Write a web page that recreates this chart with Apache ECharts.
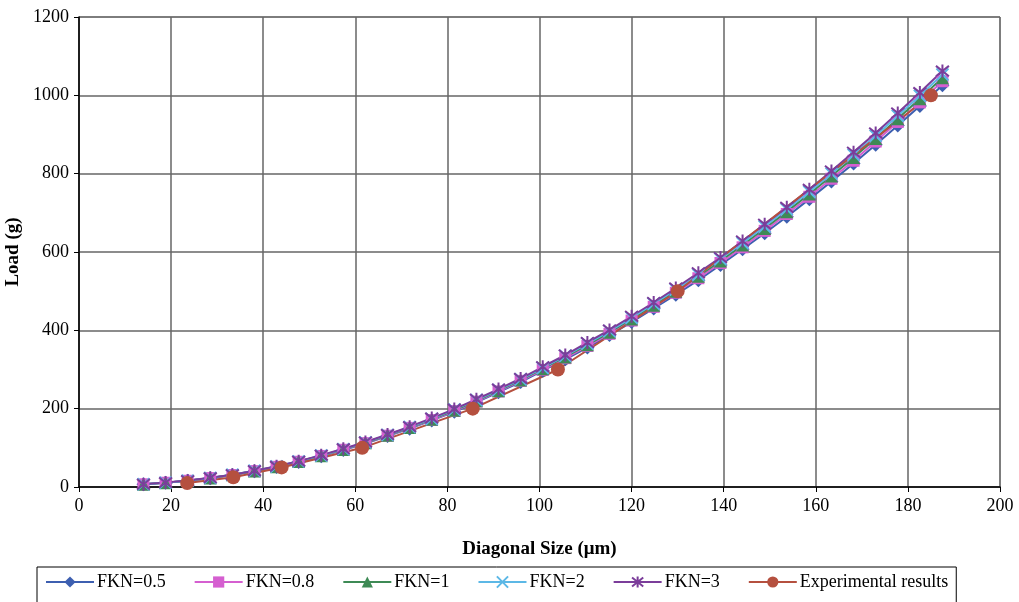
<!DOCTYPE html>
<html>
<head>
<meta charset="utf-8">
<script src="https://cdn.jsdelivr.net/npm/echarts@6/dist/echarts.min.js"></script>
<style>
html,body{margin:0;padding:0;background:#fff;}
#chart{width:1019px;height:602px;}
</style>
</head>
<body>
<div id="chart"></div>
<script>
// Diagonal sizes (µm) of the model points
const diag = [14.0, 18.8, 23.6, 28.5, 33.3, 38.1, 42.9, 47.7, 52.6, 57.4, 62.2, 67.0, 71.8, 76.6, 81.5, 86.3, 91.1, 95.9, 100.7, 105.6, 110.4, 115.2, 120.0, 124.8, 129.6, 134.5, 139.3, 144.1, 148.9, 153.7, 158.6, 163.4, 168.2, 173.0, 177.8, 182.6, 187.5];
// Loads (g) for each model
const fkn05 = [6.9, 10.8, 15.7, 22.6, 30.4, 40.3, 51.1, 63.8, 78.6, 94.3, 111, 130, 149, 170, 192, 216, 242, 268, 297, 326, 356, 388, 421, 456, 491, 528, 567, 607, 648, 690, 735, 780, 826, 874, 923, 973, 1026];
const fkn08 = [6.9, 10.9, 15.9, 22.8, 30.7, 40.6, 51.5, 64.4, 79.3, 95.1, 112, 131, 151, 171, 194, 218, 244, 271, 299, 329, 360, 391, 425, 460, 496, 533, 572, 612, 654, 697, 741, 787, 833, 882, 932, 982, 1036];
const fkn1 = [7, 11, 16, 23, 31, 41, 52, 65, 80, 96, 113, 132, 152, 173, 196, 220, 246, 273, 302, 332, 363, 395, 429, 464, 500, 538, 577, 618, 660, 703, 748, 794, 841, 890, 940, 991, 1045];
const fkn2 = [7.1, 11.1, 16.1, 23.2, 31.2, 41.3, 52.4, 65.5, 80.6, 96.8, 114, 133, 153, 174, 198, 222, 248, 275, 304, 335, 366, 398, 432, 468, 504, 542, 582, 623, 665, 709, 754, 800, 848, 897, 948, 999, 1053];
const fkn3 = [7.1, 11.2, 16.3, 23.4, 31.5, 41.7, 52.8, 66.0, 81.3, 97.5, 115, 134, 154, 176, 199, 224, 250, 277, 307, 337, 369, 401, 436, 471, 508, 547, 586, 628, 671, 714, 760, 807, 855, 904, 955, 1007, 1062];
// Experimental results
const expDiag = [23.5, 33.5, 44.0, 61.5, 85.5, 104.0, 130.0, 185.0];
const expLoad = [10, 25, 50, 100, 200, 300, 500, 1000];
const seriesNames = ['FKN=0.5', 'FKN=0.8', 'FKN=1', 'FKN=2', 'FKN=3', 'Experimental results'];
const xTicks = [0, 20, 40, 60, 80, 100, 120, 140, 160, 180, 200];
const yTicks = [0, 200, 400, 600, 800, 1000, 1200];

const serif = '"Liberation Serif", "Times New Roman", serif';
const pair = (xs, ys) => xs.map((x, i) => [x, ys[i]]);

function mk(name, ys, xs, color, symbol, size, stroke) {
  const s = {
    name: name, type: 'line', data: pair(xs, ys),
    symbol: symbol, symbolSize: size,
    lineStyle: {color: color, width: 2},
    itemStyle: {color: color},
    emphasis: {disabled: true}
  };
  if (stroke) {
    s.itemStyle = {color: color, borderColor: color, borderWidth: 2};
  }
  return s;
}

const chart = echarts.init(document.getElementById('chart'), null, {renderer: 'canvas'});
chart.setOption({
  animation: false,
  backgroundColor: '#fff',
  grid: {left: 79, right: 19, top: 17, bottom: 115, containLabel: false, outerBoundsMode: 'none',
         show: true, borderColor: '#888', borderWidth: 1},
  xAxis: {
    type: 'value', min: xTicks[0], max: xTicks[xTicks.length - 1], interval: 20,
    name: 'Diagonal Size (\u03bcm)', nameLocation: 'middle', nameGap: 53,
    nameTextStyle: {fontFamily: serif, fontSize: 19, fontWeight: 'bold', color: '#000'},
    axisLine: {show: true, lineStyle: {color: '#000', width: 1.5}},
    axisTick: {show: true, length: 5, lineStyle: {color: '#000'}},
    axisLabel: {fontFamily: serif, fontSize: 18, color: '#000', margin: 10, formatter: v => String(v)},
    splitLine: {show: true, lineStyle: {color: '#666', width: 1.5}}
  },
  yAxis: {
    type: 'value', min: yTicks[0], max: yTicks[yTicks.length - 1], interval: 200,
    name: 'Load (g)', nameLocation: 'middle', nameGap: 55,
    nameTextStyle: {fontFamily: serif, fontSize: 19, fontWeight: 'bold', color: '#000'},
    axisLine: {show: true, lineStyle: {color: '#000', width: 1.5}},
    axisTick: {show: true, length: 5, lineStyle: {color: '#000'}},
    axisLabel: {fontFamily: serif, fontSize: 18, color: '#000', margin: 10, formatter: v => String(v)},
    splitLine: {show: true, lineStyle: {color: '#666', width: 1.5}}
  },
  legend: {
    left: 37, top: 567,
    padding: [6, 8, 20, 8],
    borderColor: '#000', borderWidth: 1,
    itemWidth: 48, itemHeight: 14, itemGap: 28,
    textStyle: {fontFamily: serif, fontSize: 18, color: '#000', padding: [0, 0, 0, -2]},
    data: seriesNames
  },
  series: [
    mk(seriesNames[0], fkn05, diag, '#3d5fb0', 'diamond', 14, false),
    mk(seriesNames[1], fkn08, diag, '#d55fd0', 'rect', 12, false),
    mk(seriesNames[2], fkn1, diag, '#3e8a55', 'triangle', 13, false),
    mk(seriesNames[3], fkn2, diag, '#5cb8e6', 'path://M0,0L10,10M10,0L0,10', 12, true),
    mk(seriesNames[4], fkn3, diag, '#7b3d9a', 'path://M5,0L5,10M0,1L10,9M10,1L0,9', 13, true),
    mk(seriesNames[5], expLoad, expDiag, '#b5503f', 'circle', 14, false)
  ]
});
</script>
</body>
</html>
